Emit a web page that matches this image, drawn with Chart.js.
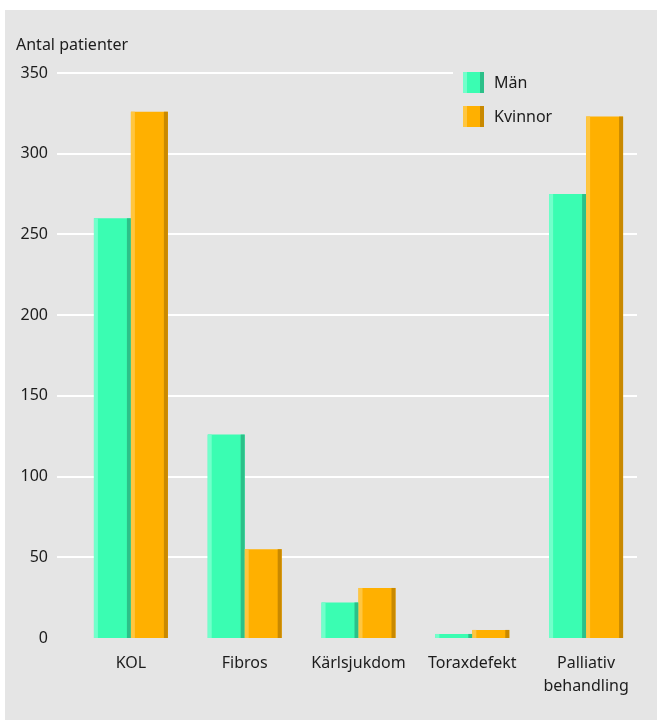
<!DOCTYPE html>
<html>
<head>
<meta charset="utf-8">
<script src="https://cdn.jsdelivr.net/npm/chart.js@4.4.0/dist/chart.umd.min.js"></script>
<style>
  html, body { margin: 0; padding: 0; background: #fff; }
  #wrap { position: absolute; left: 5px; top: 10px; width: 652px; height: 710px; background: #e5e5e5; }
</style>
</head>
<body>
<div id="wrap"><canvas id="chart" width="652" height="710"></canvas></div>
<script>
const categories = ['KOL', 'Fibros', 'Kärlsjukdom', 'Toraxdefekt', ['Palliativ', 'behandling']]
const seriesNames = ['Män', 'Kvinnor']
const manValues = [260, 126, 22, 2.5, 275]
const kvinnorValues = [326, 55, 31, 5, 323]
const yTickValues = [0, 50, 100, 150, 200, 250, 300, 350]
const axisTitle = 'Antal patienter'

const FONT = '"Noto Sans", "Open Sans", sans-serif'
const TEXT = '#1c1c1c'
const BG = '#e5e5e5'
// main / light edge / dark edge
const shades = [
  ['#3afdb2', '#72ffcb', '#2cc089'],
  ['#ffb000', '#ffc640', '#c98900'],
]

// white grid lines, drawn wider than the chart area like the original
const gridPlugin = {
  id: 'grid',
  beforeDatasetsDraw(chart) {
    const ctx = chart.ctx
    const y = chart.scales.y
    ctx.save()
    ctx.strokeStyle = '#ffffff'
    ctx.lineWidth = 2
    yTickValues.forEach((v) => {
      if (v === 0) return
      const py = Math.round(y.getPixelForValue(v))
      ctx.beginPath()
      ctx.moveTo(52, py)
      ctx.lineTo(632, py)
      ctx.stroke()
    })
    // legend sits on a plain patch, the top grid line stops at it
    ctx.fillStyle = BG
    ctx.fillRect(448, 52, 190, 80)
    ctx.restore()
  },
}

// light stripe on the left, dark stripe on the right of each bar
const edgePlugin = {
  id: 'edges',
  afterDatasetsDraw(chart) {
    const ctx = chart.ctx
    ctx.save()
    chart.data.datasets.forEach((ds, di) => {
      const meta = chart.getDatasetMeta(di)
      meta.data.forEach((bar) => {
        const left = bar.x - bar.width / 2
        const right = bar.x + bar.width / 2
        const top = Math.min(bar.y, bar.base)
        const h = Math.abs(bar.base - bar.y)
        ctx.fillStyle = shades[di][1]
        ctx.fillRect(left, top, 4, h)
        ctx.fillStyle = shades[di][2]
        ctx.fillRect(right - 4, top, 4, h)
      })
    })
    ctx.restore()
  },
}

const legendPlugin = {
  id: 'boxLegend',
  afterDraw(chart) {
    const ctx = chart.ctx
    ctx.save()
    ctx.font = '16px ' + FONT
    ctx.textBaseline = 'middle'
    ctx.textAlign = 'left'
    chart.data.datasets.forEach((ds, i) => {
      const x = 458
      const y = 62 + i * 34
      ctx.fillStyle = shades[i][0]
      ctx.fillRect(x, y, 21, 21)
      ctx.fillStyle = shades[i][1]
      ctx.fillRect(x, y, 4, 21)
      ctx.fillStyle = shades[i][2]
      ctx.fillRect(x + 17, y, 4, 21)
      ctx.fillStyle = TEXT
      ctx.fillText(ds.label, x + 31, y + 11)
    })
    // axis title above the y ticks
    ctx.fillText(axisTitle, 11, 35)
    ctx.restore()
  },
}

const ctx = document.getElementById('chart').getContext('2d')
new Chart(ctx, {
  type: 'bar',
  data: {
    labels: categories,
    datasets: [
      { label: seriesNames[0], data: manValues, backgroundColor: shades[0][0] },
      { label: seriesNames[1], data: kvinnorValues, backgroundColor: shades[1][0] },
    ],
  },
  options: {
    responsive: false,
    animation: false,
    devicePixelRatio: 1,
    layout: { padding: { top: 63, right: 14, left: 0, bottom: 0 } },
    datasets: { bar: { categoryPercentage: 0.65, barPercentage: 1, borderWidth: 0 } },
    plugins: { legend: { display: false }, tooltip: { enabled: false } },
    scales: {
      x: {
        grid: { display: false, drawTicks: false },
        border: { display: false },
        ticks: { color: TEXT, font: { family: FONT, size: 16, lineHeight: 1.45 }, padding: 14, maxRotation: 0, autoSkip: false },
        afterFit: (s) => { s.height = 82 },
      },
      y: {
        min: 0,
        max: 350,
        grid: { display: false, drawTicks: false },
        border: { display: false },
        afterBuildTicks: (s) => { s.ticks = yTickValues.map((v) => ({ value: v })) },
        ticks: { color: TEXT, font: { family: FONT, size: 16 }, padding: 26 },
        afterFit: (s) => { s.width = 69 },
      },
    },
  },
  plugins: [gridPlugin, edgePlugin, legendPlugin],
})
</script>
</body>
</html>
